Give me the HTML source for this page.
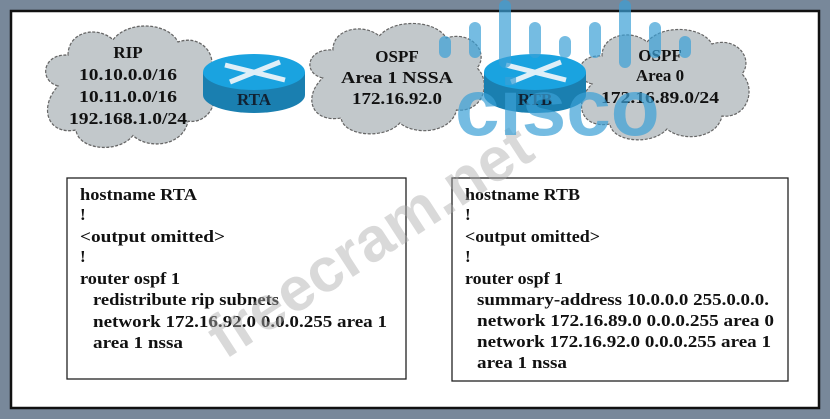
<!DOCTYPE html>
<html><head><style>
html,body{margin:0;padding:0;}
body{width:830px;height:419px;background:#78889a;position:relative;overflow:hidden;}
svg{position:absolute;left:0;top:0;}
text{font-family:"Liberation Serif",serif;font-weight:bold;}
</style></head><body>
<svg width="830" height="419" viewBox="0 0 830 419">
<rect x="11" y="11" width="808" height="397" fill="#fff" stroke="#111" stroke-width="2.5"/>
<defs>
<g id="cloud">
<path d="M20,60 C0,55 5,30 30,32 C30,10 60,5 75,18 C90,0 130,2 140,20 C165,12 182,35 170,50 C185,65 175,95 150,92 C145,115 110,118 95,105 C80,122 40,118 38,100 C10,105 0,80 20,60 Z" fill="#c2c8cb" stroke="#666" stroke-width="1.2" stroke-dasharray="3,1.5"/>
</g>
</defs>
<use href="#cloud" transform="translate(38,20) scale(1.0,1.1)"/>
<use href="#cloud" transform="translate(302,18) scale(1.03,1.0)"/>
<use href="#cloud" transform="translate(572,24) scale(1.0,1.0)"/>
<g font-size="17" text-anchor="middle" fill="#111">
<text x="128" y="58">RIP</text>
<text x="128" y="80" textLength="98" lengthAdjust="spacingAndGlyphs">10.10.0.0/16</text>
<text x="128" y="102" textLength="98" lengthAdjust="spacingAndGlyphs">10.11.0.0/16</text>
<text x="128" y="124" textLength="118" lengthAdjust="spacingAndGlyphs">192.168.1.0/24</text>
<text x="397" y="62">OSPF</text>
<text x="397" y="83" textLength="112" lengthAdjust="spacingAndGlyphs">Area 1 NSSA</text>
<text x="397" y="104" textLength="90" lengthAdjust="spacingAndGlyphs">172.16.92.0</text>
<text x="660" y="61">OSPF</text>
<text x="660" y="81">Area 0</text>
<text x="660" y="103" textLength="118" lengthAdjust="spacingAndGlyphs">172.16.89.0/24</text>
</g>
<g>
<path d="M203,72 L203,95 A51,18 0 0 0 305,95 L305,72 Z" fill="#1a7fb0"/>
<ellipse cx="254" cy="72" rx="51" ry="18" fill="#1aa3e0"/>
<path d="M225,65 L285,80 M230,82 L280,62" stroke="#dfeff8" stroke-width="5"/>
<text x="254" y="105" font-size="17" text-anchor="middle" fill="#123">RTA</text>
</g>
<g>
<path d="M484,72 L484,95 A51,18 0 0 0 586,95 L586,72 Z" fill="#1a7fb0"/>
<ellipse cx="535" cy="72" rx="51" ry="18" fill="#1aa3e0"/>
<path d="M506,65 L566,80 M511,82 L561,62" stroke="#dfeff8" stroke-width="5"/>
<text x="535" y="105" font-size="17" text-anchor="middle" fill="#123">RTB</text>
</g>
<rect x="67" y="178" width="339" height="201" fill="#fff" stroke="#222" stroke-width="1.3"/>
<rect x="452" y="178" width="336" height="203" fill="#fff" stroke="#222" stroke-width="1.3"/>
<g font-size="17" fill="#111">
<text x="80" y="200" textLength="117" lengthAdjust="spacingAndGlyphs">hostname RTA</text>
<text x="80" y="220">!</text>
<text x="80" y="242" textLength="145" lengthAdjust="spacingAndGlyphs">&lt;output omitted&gt;</text>
<text x="80" y="262">!</text>
<text x="80" y="284" textLength="100" lengthAdjust="spacingAndGlyphs">router ospf 1</text>
<text x="93" y="305" textLength="186" lengthAdjust="spacingAndGlyphs">redistribute rip subnets</text>
<text x="93" y="327" textLength="294" lengthAdjust="spacingAndGlyphs">network 172.16.92.0 0.0.0.255 area 1</text>
<text x="93" y="348" textLength="90" lengthAdjust="spacingAndGlyphs">area 1 nssa</text>
<text x="465" y="200" textLength="115" lengthAdjust="spacingAndGlyphs">hostname RTB</text>
<text x="465" y="220">!</text>
<text x="465" y="242" textLength="135" lengthAdjust="spacingAndGlyphs">&lt;output omitted&gt;</text>
<text x="465" y="262">!</text>
<text x="465" y="284" textLength="98" lengthAdjust="spacingAndGlyphs">router ospf 1</text>
<text x="477" y="305" textLength="292" lengthAdjust="spacingAndGlyphs">summary-address 10.0.0.0 255.0.0.0.</text>
<text x="477" y="326" textLength="297" lengthAdjust="spacingAndGlyphs">network 172.16.89.0 0.0.0.255 area 0</text>
<text x="477" y="347" textLength="294" lengthAdjust="spacingAndGlyphs">network 172.16.92.0 0.0.0.255 area 1</text>
<text x="477" y="368" textLength="90" lengthAdjust="spacingAndGlyphs">area 1 nssa</text>
</g>
<text x="225" y="360" font-size="62" fill="#aaa" fill-opacity="0.45" transform="rotate(-33 225 360)" style="font-family:'Liberation Sans',sans-serif">freecram.net</text>
<g stroke="#3a9fd6" stroke-opacity="0.7" stroke-width="12" stroke-linecap="round">
<line x1="445" y1="42" x2="445" y2="52"/><line x1="475" y1="28" x2="475" y2="52"/>
<line x1="505" y1="6" x2="505" y2="62"/><line x1="535" y1="28" x2="535" y2="52"/>
<line x1="565" y1="42" x2="565" y2="52"/><line x1="595" y1="28" x2="595" y2="52"/>
<line x1="625" y1="6" x2="625" y2="62"/><line x1="655" y1="28" x2="655" y2="52"/>
<line x1="685" y1="42" x2="685" y2="52"/>
</g>
<text x="455" y="135" font-size="80" fill="#3a9fd6" fill-opacity="0.7" style="font-family:'Liberation Sans',sans-serif;font-weight:bold">cisco</text>
</svg>
</body></html>
